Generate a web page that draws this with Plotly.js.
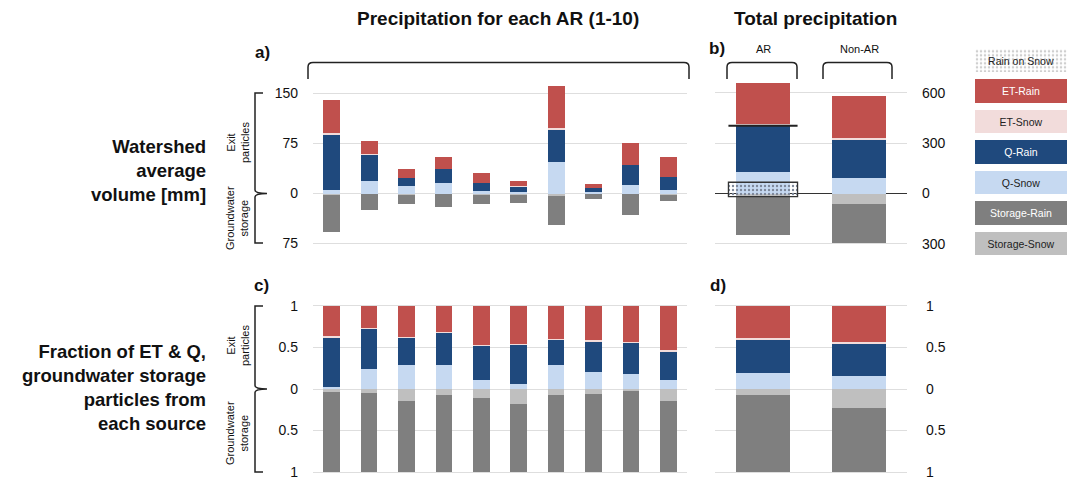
<!DOCTYPE html>
<html>
<head>
<meta charset="utf-8">
<script src="https://cdn.plot.ly/plotly-3.0.1.min.js"></script>
<style>html,body{margin:0;padding:0;background:#fff}#chart{width:1073px;height:480px}</style>
</head>
<body>
<div id="chart"></div>
<script>
// ---------- DATA ----------
const arEvents = ['1','2','3','4','5','6','7','8','9','10'];
const periods = ['AR','Non-AR'];
const seriesNames = ['Storage-Snow','Storage-Rain','Q-Snow','Q-Rain','ET-Snow','ET-Rain'];

// Panel a: watershed average volume [mm] for each AR
const aStorageSnow = [2.3, 1.2, 2.4, 1.4, 1.8, 2.6, 3.6, 0.5, 0.7, 1.6];
const aStorageRain = [55, 23, 13.5, 18.5, 14, 12, 44, 8, 32, 9];
const aQSnow  = [5, 18, 11, 16, 3.5, 2, 47, 3, 13, 6];
const aQRain  = [83, 39, 12, 20, 12.5, 8.5, 48, 5.5, 29, 18];
const aETSnow = [2.5, 1.5, 0.6, 1, 0.4, 0.3, 2.5, 0.3, 1.2, 1];
const aETRain = [49.5, 20.5, 12.4, 17, 13.6, 8.2, 63.5, 6.2, 31.8, 29];

// Panel b: total precipitation volume [mm]
const bStorageSnow = [17, 65];
const bStorageRain = [232, 227];
const bQSnow  = [126, 93];
const bQRain  = [277, 223];
const bETSnow = [12, 12];
const bETRain = [244, 252];
const bRainOnSnowTop = [67];
const bRainOnSnowBottom = [-19];

// Panel c: fractions for each AR
const cStorageSnow = [0.04, 0.048, 0.15, 0.07, 0.11, 0.18, 0.075, 0.055, 0.02, 0.15];
const cStorageRain = [0.96, 0.952, 0.85, 0.93, 0.89, 0.82, 0.925, 0.945, 0.98, 0.85];
const cQSnow  = [0.03, 0.24, 0.29, 0.29, 0.11, 0.06, 0.29, 0.2, 0.175, 0.11];
const cQRain  = [0.59, 0.48, 0.325, 0.38, 0.405, 0.47, 0.3, 0.37, 0.38, 0.335];
const cETSnow = [0.02, 0.016, 0.016, 0.02, 0.014, 0.012, 0.017, 0.016, 0.015, 0.02];
const cETRain = [0.36, 0.264, 0.369, 0.31, 0.471, 0.458, 0.393, 0.414, 0.43, 0.535];

// Panel d: fractions, totals
const dStorageSnow = [0.07, 0.23];
const dStorageRain = [0.93, 0.77];
const dQSnow  = [0.187, 0.155];
const dQRain  = [0.408, 0.385];
const dETSnow = [0.02, 0.03];
const dETRain = [0.385, 0.43];

// tick labels
const volTickVals = [-75, 0, 75, 150];
const volTickText = ['75', '0', '75', '150'];
const totTickVals = [-300, 0, 300, 600];
const totTickText = ['300', '0', '300', '600'];
const fracTickVals = [-1, -0.5, 0, 0.5, 1];
const fracTickText = ['1', '0.5', '0', '0.5', '1'];

// legend
const legendLabels = ['Rain on Snow','ET-Rain','ET-Snow','Q-Rain','Q-Snow','Storage-Rain','Storage-Snow'];
const legendValues = [1, 1, 1, 1, 1, 1, 1];

// ---------- STYLE ----------
const COL = {
  'ET-Rain':'#c0504d', 'ET-Snow':'#f2dcdb', 'Q-Rain':'#1f497d',
  'Q-Snow':'#c6d9f1', 'Storage-Rain':'#7f7f7f', 'Storage-Snow':'#bfbfbf'
};
const W = 1073, H = 480;
const FONT = 'Arial, "Liberation Sans", Arimo, sans-serif';
const px = x => x / W;
const py = y => 1 - y / H;
const neg = arr => arr.map(v => -v);

function stack(xa, ya, cats, s, width) {
  const vals = [neg(s.stSnow), neg(s.stRain), s.qSnow, s.qRain, s.etSnow, s.etRain];
  const raw  = [s.stSnow, s.stRain, s.qSnow, s.qRain, s.etSnow, s.etRain];
  return seriesNames.map((n, i) => ({
    type: 'bar', x: cats, y: vals[i], customdata: raw[i], name: n,
    xaxis: xa, yaxis: ya, width: width,
    marker: {color: COL[n], line: {width: 0}},
    hovertemplate: n + ': %{customdata}<extra></extra>'
  }));
}

const traces = [].concat(
  stack('x', 'y', arEvents, {stSnow:aStorageSnow, stRain:aStorageRain, qSnow:aQSnow, qRain:aQRain, etSnow:aETSnow, etRain:aETRain}, 0.45),
  stack('x2', 'y2', periods, {stSnow:bStorageSnow, stRain:bStorageRain, qSnow:bQSnow, qRain:bQRain, etSnow:bETSnow, etRain:bETRain}, 0.57),
  stack('x3', 'y3', arEvents, {stSnow:cStorageSnow, stRain:cStorageRain, qSnow:cQSnow, qRain:cQRain, etSnow:cETSnow, etRain:cETRain}, 0.44),
  stack('x4', 'y4', periods, {stSnow:dStorageSnow, stRain:dStorageRain, qSnow:dQSnow, qRain:dQRain, etSnow:dETSnow, etRain:dETRain}, 0.57)
);

// rain on snow box (panel b, AR)
traces.push({
  type: 'bar', x: [periods[0]], y: [bRainOnSnowTop[0] - bRainOnSnowBottom[0]], base: bRainOnSnowBottom,
  xaxis: 'x5', yaxis: 'y5', width: 0.72, name: 'Rain on Snow',
  marker: {color: 'rgba(210,224,242,0.95)', line: {color: '#333', width: 1.3},
           pattern: {shape: '.', fgcolor: '#7d8799', size: 4, solidity: 0.28}},
  hoverinfo: 'skip'
});

// legend as horizontal bars (solid boxes)
const legFill = legendLabels.map(l => l === 'Rain on Snow' ? 'rgba(0,0,0,0)' : COL[l]);
const legText = legendLabels.map(l => ['ET-Rain','Q-Rain','Storage-Rain'].includes(l) ? '#ffffff' : '#222222');
const legLabelText = legendLabels.map(l => l === 'Rain on Snow' ? '' : l);
traces.push({
  type: 'bar', orientation: 'h', y: legendLabels, x: legendValues, xaxis: 'x6', yaxis: 'y6',
  width: 0.76, text: legLabelText, textposition: 'inside', insidetextanchor: 'middle',
  textangle: 0, constraintext: 'none',
  textfont: {family: FONT, size: 10.5, color: legText},
  marker: {color: legFill, line: {width: 0}},
  hoverinfo: 'skip'
});
// dotted "Rain on Snow" legend box, on an overlaid axis pair so it does not stack
traces.push({
  type: 'bar', orientation: 'h', y: [legendLabels[0]], x: [legendValues[0]], xaxis: 'x7', yaxis: 'y7',
  width: 0.76, marker: {color: '#ffffff', line: {width: 0},
    pattern: {shape: '.', fgcolor: '#cfcfcf', bgcolor: '#ffffff', size: 4, solidity: 0.3}},
  hoverinfo: 'skip', text: [legendLabels[0]], textposition: 'inside', insidetextanchor: 'middle',
  textangle: 0, constraintext: 'none', textfont: {family: FONT, size: 10.5, color: '#222'}
});

const GRID = '#dedede';
const baseY = {
  showline: false, zeroline: false, showgrid: true, gridcolor: GRID, gridwidth: 1,
  ticks: '', tickfont: {family: FONT, size: 14, color: '#111'}, fixedrange: true,
  ticklabeloverflow: 'allow'
};
const baseX = {type: 'category', showticklabels: false, showgrid: false, zeroline: false, showline: false, ticks: '', fixedrange: true};

const dxA = [px(313), px(687)];
const dxB = [px(715), px(907)];
const dyTop = [py(248), py(80)];
const dyBot = [py(476.2), py(301.8)];
const dLeg = {x: [px(975), px(1067)], y: [py(258.8), py(45.3)]};

const layout = {
  width: W, height: H, margin: {l: 0, r: 0, t: 0, b: 0},
  paper_bgcolor: '#fff', plot_bgcolor: 'rgba(0,0,0,0)',
  showlegend: false, barmode: 'relative', bargap: 0,
  font: {family: FONT, color: '#111'},
  xaxis:  Object.assign({}, baseX, {domain: dxA, anchor: 'y', range: [-0.5, 9.5], categoryarray: arEvents}),
  yaxis:  Object.assign({}, baseY, {domain: dyTop, anchor: 'x', range: [-81.6, 170], tickvals: volTickVals, ticktext: volTickText, ticklabelstandoff: 14}),
  xaxis2: Object.assign({}, baseX, {domain: dxB, anchor: 'y2', range: [-0.5, 1.5], categoryarray: periods}),
  yaxis2: Object.assign({}, baseY, {domain: dyTop, anchor: 'x2', side: 'right', range: [-324.2, 675.2], tickvals: totTickVals, ticktext: totTickText, ticklabelstandoff: 14,
           zeroline: true, zerolinecolor: '#333', zerolinewidth: 1.5}),
  xaxis3: Object.assign({}, baseX, {domain: dxA, anchor: 'y3', range: [-0.5, 9.5], categoryarray: arEvents}),
  yaxis3: Object.assign({}, baseY, {domain: dyBot, anchor: 'x3', range: [-1.05, 1.05], tickvals: fracTickVals, ticktext: fracTickText, ticklabelstandoff: 14}),
  xaxis4: Object.assign({}, baseX, {domain: dxB, anchor: 'y4', range: [-0.5, 1.5], categoryarray: periods}),
  yaxis4: Object.assign({}, baseY, {domain: dyBot, anchor: 'x4', side: 'right', range: [-1.05, 1.05], tickvals: fracTickVals, ticktext: fracTickText, ticklabelstandoff: 18}),
  xaxis5: Object.assign({}, baseX, {overlaying: 'x2', anchor: 'y5', range: [-0.5, 1.5], categoryarray: periods}),
  yaxis5: {overlaying: 'y2', anchor: 'x5', range: [-324.2, 675.2], visible: false, fixedrange: true},
  xaxis6: {domain: dLeg.x, anchor: 'y6', range: [0, 1], visible: false, fixedrange: true},
  yaxis6: {domain: dLeg.y, anchor: 'x6', type: 'category', categoryarray: legendLabels, autorange: 'reversed', visible: false, fixedrange: true},
  xaxis7: {overlaying: 'x6', anchor: 'y7', range: [0, 1], visible: false, fixedrange: true},
  yaxis7: {overlaying: 'y6', anchor: 'x7', type: 'category', categoryarray: legendLabels, range: [legendLabels.length - 0.5, -0.5], visible: false, fixedrange: true},
  shapes: [],
  annotations: []
};

// black line at top of Q in AR total bar
layout.shapes.push({type: 'line', xref: 'x2', yref: 'y2', x0: -0.36, x1: 0.36,
  y0: bQSnow[0] + bQRain[0], y1: bQSnow[0] + bQRain[0], line: {color: '#222', width: 1.8}, layer: 'above'});

// brackets
function pathShape(pts) {
  return {type: 'path', xref: 'paper', yref: 'paper', path: pts, line: {color: '#222', width: 1.5}};
}
function P(x, y) { return px(x) + ',' + py(y); }
function topBracket(x0, x1) {
  const yT = 62.5, yB = 79;
  return pathShape('M' + P(x0, yB) + ' L' + P(x0, yT + 4.5) + ' Q' + P(x0, yT) + ' ' + P(x0 + 5, yT) +
    ' L' + P(x1 - 5, yT) + ' Q' + P(x1, yT) + ' ' + P(x1, yT + 4.5) + ' L' + P(x1, yB));
}
function sideBrace(yT, yM, yB) {
  const xv = 255, xt = 263, xm = 267;
  return pathShape('M' + P(xt, yT) + ' L' + P(xv, yT) + ' L' + P(xv, yM - 3.5) + ' Q' + P(xv, yM) + ' ' + P(xm, yM) +
    ' Q' + P(xv, yM) + ' ' + P(xv, yM + 3.5) + ' L' + P(xv, yB) + ' L' + P(xt, yB));
}
layout.shapes.push(topBracket(308, 689));
layout.shapes.push(topBracket(727, 797));
layout.shapes.push(topBracket(823, 892));
layout.shapes.push(sideBrace(93, 193.5, 243));
layout.shapes.push(sideBrace(306, 389, 472));

function ann(text, x, y, opts) {
  return Object.assign({text: text, xref: 'paper', yref: 'paper', x: px(x), y: py(y), showarrow: false,
    xanchor: 'center', yanchor: 'middle', font: {family: FONT, size: 14, color: '#111'}}, opts || {});
}
const boldF = s => ({family: FONT, size: s, color: '#111', weight: 'bold'});
layout.annotations.push(
  ann('<b>Precipitation for each AR (1-10)</b>', 498, 19, {font: boldF(19)}),
  ann('<b>Total precipitation</b>', 815, 19, {font: boldF(19)}),
  ann('<b>a)</b>', 262, 52, {font: boldF(17)}),
  ann('<b>b)</b>', 717, 49, {font: boldF(17)}),
  ann('<b>c)</b>', 261, 285, {font: boldF(17)}),
  ann('<b>d)</b>', 718, 285, {font: boldF(17)}),
  ann('AR', 763, 49, {font: {family: FONT, size: 11, color: '#111'}}),
  ann('Non-AR', 859, 49, {font: {family: FONT, size: 11, color: '#111'}}),
  ann('Exit<br>particles', 238, 143, {textangle: -90, font: {family: FONT, size: 11, color: '#111'}}),
  ann('Groundwater<br>storage', 237, 218, {textangle: -90, font: {family: FONT, size: 11, color: '#111'}}),
  ann('Exit<br>particles', 238, 346, {textangle: -90, font: {family: FONT, size: 11, color: '#111'}}),
  ann('Groundwater<br>storage', 237, 433, {textangle: -90, font: {family: FONT, size: 11, color: '#111'}}),
  ann('<b>Watershed<br>average<br>volume [mm]</b>', 208, 171, {xanchor: 'right', align: 'right', font: boldF(18.5)}),
  ann('<b>Fraction of ET &amp; Q,<br>groundwater storage<br>particles from<br>each source</b>', 208, 387, {xanchor: 'right', align: 'right', font: boldF(18.5)})
);

Plotly.newPlot('chart', traces, layout, {staticPlot: true, displayModeBar: false});
</script>
</body>
</html>
